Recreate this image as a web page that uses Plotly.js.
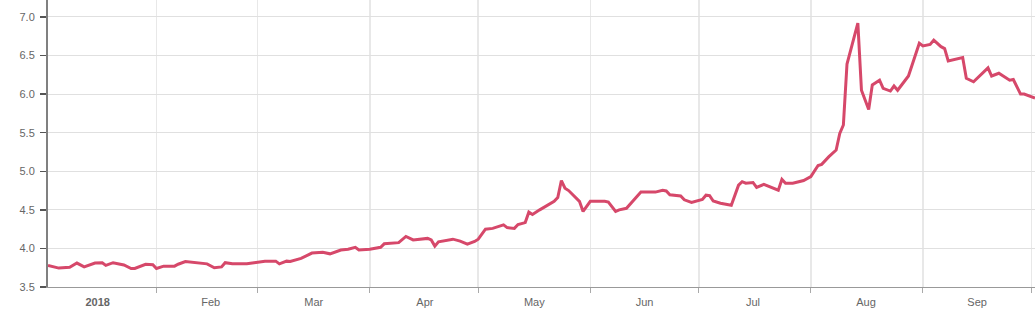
<!DOCTYPE html>
<html>
<head>
<meta charset="utf-8">
<script src="https://cdn.plot.ly/plotly-3.0.1.min.js"></script>
<style>html,body{margin:0;padding:0;background:#fff;}#chart{width:1035px;height:326px;}</style>
</head>
<body>
<div id="chart"></div>
<script>
const dates = [
"2018-01-02","2018-01-04","2018-01-05","2018-01-08","2018-01-10","2018-01-12","2018-01-15","2018-01-17","2018-01-18","2018-01-20",
"2018-01-23","2018-01-25","2018-01-26","2018-01-29","2018-01-31","2018-02-01","2018-02-03","2018-02-06","2018-02-07","2018-02-09",
"2018-02-10","2018-02-12","2018-02-13","2018-02-15","2018-02-17","2018-02-19","2018-02-20","2018-02-22","2018-02-24","2018-02-26",
"2018-02-28","2018-03-02","2018-03-03","2018-03-06","2018-03-07","2018-03-09","2018-03-10","2018-03-13","2018-03-16","2018-03-19",
"2018-03-21","2018-03-24","2018-03-26","2018-03-28","2018-03-29","2018-04-01","2018-04-04","2018-04-05","2018-04-09","2018-04-11",
"2018-04-13","2018-04-17","2018-04-18","2018-04-19","2018-04-20","2018-04-24","2018-04-26","2018-04-28","2018-04-30","2018-05-01",
"2018-05-03","2018-05-05","2018-05-08","2018-05-09","2018-05-11","2018-05-12","2018-05-14","2018-05-15","2018-05-16","2018-05-18",
"2018-05-22","2018-05-23","2018-05-24","2018-05-25","2018-05-26","2018-05-29","2018-05-30","2018-06-01","2018-06-05","2018-06-06",
"2018-06-08","2018-06-09","2018-06-11","2018-06-15","2018-06-19","2018-06-21","2018-06-22","2018-06-23","2018-06-26","2018-06-27",
"2018-06-29","2018-07-02","2018-07-03","2018-07-04","2018-07-05","2018-07-07","2018-07-10","2018-07-12","2018-07-13","2018-07-14",
"2018-07-16","2018-07-17","2018-07-19","2018-07-23","2018-07-24","2018-07-25","2018-07-27","2018-07-30","2018-08-01","2018-08-03",
"2018-08-04","2018-08-06","2018-08-08","2018-08-09","2018-08-10","2018-08-11","2018-08-14","2018-08-15","2018-08-17","2018-08-18",
"2018-08-20","2018-08-21","2018-08-23","2018-08-24","2018-08-25","2018-08-28","2018-08-31","2018-09-01","2018-09-03","2018-09-04",
"2018-09-06","2018-09-07","2018-09-08","2018-09-12","2018-09-13","2018-09-15","2018-09-19","2018-09-20","2018-09-22","2018-09-25",
"2018-09-26","2018-09-28","2018-09-29","2018-10-02"
];
const values = [
3.78,3.76,3.745,3.755,3.81,3.76,3.81,3.815,3.78,3.815,
3.785,3.74,3.74,3.795,3.79,3.74,3.77,3.77,3.795,3.83,
3.825,3.815,3.815,3.80,3.75,3.76,3.815,3.80,3.80,3.80,
3.815,3.825,3.835,3.835,3.80,3.835,3.83,3.87,3.94,3.95,
3.93,3.98,3.99,4.015,3.98,3.99,4.015,4.06,4.075,4.155,
4.11,4.13,4.11,4.03,4.085,4.12,4.095,4.055,4.09,4.12,
4.25,4.26,4.305,4.27,4.26,4.31,4.335,4.47,4.44,4.50,
4.61,4.66,4.88,4.78,4.75,4.61,4.48,4.61,4.61,4.60,
4.48,4.50,4.52,4.73,4.73,4.755,4.745,4.695,4.68,4.63,
4.595,4.635,4.69,4.685,4.615,4.585,4.56,4.82,4.865,4.845,
4.855,4.79,4.83,4.755,4.895,4.845,4.845,4.88,4.93,5.075,
5.09,5.19,5.275,5.49,5.60,6.39,6.92,6.05,5.80,6.12,
6.18,6.075,6.04,6.105,6.05,6.235,6.66,6.625,6.645,6.70,
6.615,6.59,6.43,6.475,6.205,6.16,6.34,6.235,6.27,6.18,
6.19,6.00,6.00,5.95
];
const tickDates = ["2018-01-15 18:00","2018-02-16","2018-03-16 12:00","2018-04-16 06:00","2018-05-16 12:00","2018-06-16","2018-07-16","2018-08-16 06:00","2018-09-16"];
const tickLabels = ["<b>2018</b>","Feb","Mar","Apr","May","Jun","Jul","Aug","Sep"];
const yTicks = [3.5,4.0,4.5,5.0,5.5,6.0,6.5,7.0];
const yLabels = ["3.5","4.0","4.5","5.0","5.5","6.0","6.5","7.0"];

const trace = {
  x: dates, y: values, type: "scatter", mode: "lines",
  line: {color: "rgb(214,72,106)", width: 3, shape: "linear"},
  hoverinfo: "skip"
};
const layout = {
  width: 1035, height: 326,
  margin: {l: 48, r: 0, t: 0, b: 39},
  paper_bgcolor: "#fff", plot_bgcolor: "#fff",
  showlegend: false,
  font: {family: "Liberation Sans, Arial, sans-serif", size: 11, color: "#666"},
  xaxis: {
    type: "date",
    range: ["2018-01-02", "2018-10-02"],
    tickmode: "array", tickvals: tickDates, ticktext: tickLabels,
    ticks: "outside", ticklen: 5, tickcolor: "rgba(0,0,0,0)",
    showgrid: false, zeroline: false,
    showline: true, linecolor: "#999", linewidth: 1,
    tickfont: {size: 11, color: "#666"},
    minor: {tickmode: "linear", tick0: "2018-01-01", dtick: "M1", showgrid: true, gridcolor: "#e8e8e8", gridwidth: 1.5, ticks: "outside", ticklen: 5, tickcolor: "#aaa", tickwidth: 1}
  },
  yaxis: {
    range: [3.5, 7.22],
    tickmode: "array", tickvals: yTicks, ticktext: yLabels,
    ticks: "outside", ticklen: 6, tickwidth: 1.5, tickcolor: "#555",
    showgrid: true, gridcolor: "#e0e0e0", gridwidth: 1,
    zeroline: false,
    showline: true, linecolor: "#808080", linewidth: 2,
    tickfont: {size: 11, color: "#666"},
    ticklabelstandoff: 3
  }
};
Plotly.newPlot("chart", [trace], layout, {staticPlot: true, displayModeBar: false});
</script>
</body>
</html>
